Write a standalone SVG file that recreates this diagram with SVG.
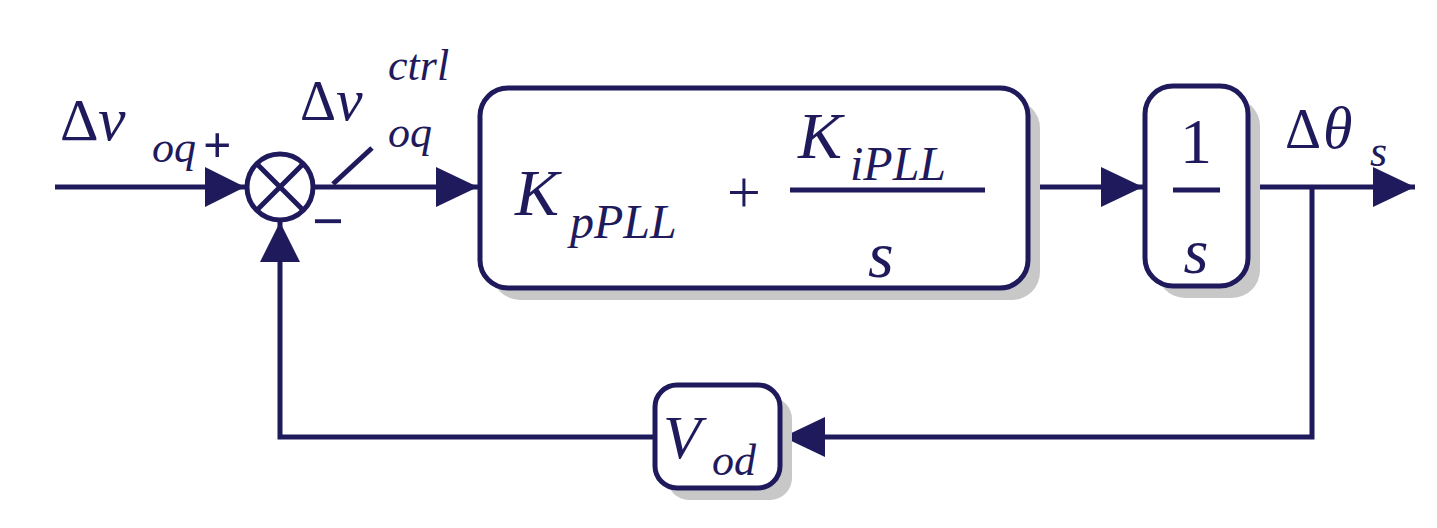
<svg xmlns="http://www.w3.org/2000/svg" width="1437" height="528" viewBox="0 0 1437 528">
<defs>
<style>
.ln{stroke:#1f1a5c;stroke-width:5;fill:none}
.bx{stroke:#1f1a5c;stroke-width:5;fill:#fff}
.sh{fill:#c8c8c8}
.t{font-family:"Liberation Serif",serif;font-style:italic;fill:#1f1a5c}
.u{font-family:"Liberation Serif",serif;fill:#1f1a5c}
</style>
<marker id="ar" markerWidth="10" markerHeight="10" refX="10" refY="5" orient="auto" markerUnits="userSpaceOnUse" viewBox="0 0 10 10"><path d="M0,0L10,5L0,10z" fill="#1f1a5c"/></marker>
</defs>
<g id="connectors">
<path class="ln" d="M55,187H245"/>
<path d="M205,167L245,187L205,207z" fill="#1f1a5c"/>
<path class="ln" d="M313,187H478"/>
<path d="M436,167L478,187L436,207z" fill="#1f1a5c"/>
<path class="ln" d="M333,184L372,148"/>
<path class="ln" d="M1028,187H1143"/>
<path d="M1101,167L1143,187L1101,207z" fill="#1f1a5c"/>
<path class="ln" d="M1248,187H1415"/>
<path d="M1373,167L1415,187L1373,207z" fill="#1f1a5c"/>
<path class="ln" d="M1312,187V437H783"/>
<path d="M825,417L783,437L825,457z" fill="#1f1a5c"/>
<path class="ln" d="M655,437H280V222"/>
<path d="M260,262L280,222L300,262z" fill="#1f1a5c"/>
</g>
<g id="sum">
<circle cx="280" cy="187" r="33" class="bx"/>
<path class="ln" d="M257,164L303,210M303,164L257,210"/>
</g>
<g id="pi">
<rect x="492" y="100" width="548" height="200" rx="28" class="sh"/>
<rect x="480" y="88" width="548" height="200" rx="28" class="bx"/>
<text x="515" y="215" class="t" font-size="66">K</text>
<text x="570" y="238" class="t" font-size="48">pPLL</text>
<text x="727" y="212" class="u" font-size="60">+</text>
<path class="ln" d="M790,190H985"/>
<text x="798" y="158" class="t" font-size="66">K</text>
<text x="850" y="180" class="t" font-size="48">iPLL</text>
<text x="868" y="277" class="t" font-size="66">s</text>
</g>
<g id="integrator">
<rect x="1157" y="98" width="103" height="200" rx="28" class="sh"/>
<rect x="1145" y="86" width="103" height="200" rx="28" class="bx"/>
<text x="1196" y="163" class="u" font-size="64" text-anchor="middle">1</text>
<path class="ln" d="M1173,190H1220"/>
<text x="1196" y="273" class="t" font-size="64" text-anchor="middle">s</text>
</g>
<g id="vod">
<rect x="667" y="397" width="125" height="103" rx="22" class="sh"/>
<rect x="655" y="385" width="125" height="103" rx="22" class="bx"/>
<text x="663" y="458" class="t" font-size="62">V</text>
<text x="712" y="475" class="t" font-size="44">od</text>
</g>
<g id="labels">
<text x="60" y="140" class="u" font-size="60">Δ</text>
<text x="98" y="140" class="t" font-size="62">v</text>
<text x="152" y="162" class="t" font-size="44">oq</text>
<text x="203" y="162" class="u" font-size="50" font-weight="bold">+</text>
<text x="312" y="240" class="u" font-size="56" font-weight="bold">−</text>
<text x="300" y="120" class="u" font-size="56">Δ</text>
<text x="336" y="120" class="t" font-size="60">v</text>
<text x="388" y="80" class="t" font-size="44">ctrl</text>
<text x="388" y="147" class="t" font-size="44">oq</text>
<text x="1285" y="148" class="u" font-size="56">Δ</text>
<text x="1323" y="148" class="t" font-size="60">θ</text>
<text x="1370" y="166" class="t" font-size="44">s</text>
</g>
</svg>
